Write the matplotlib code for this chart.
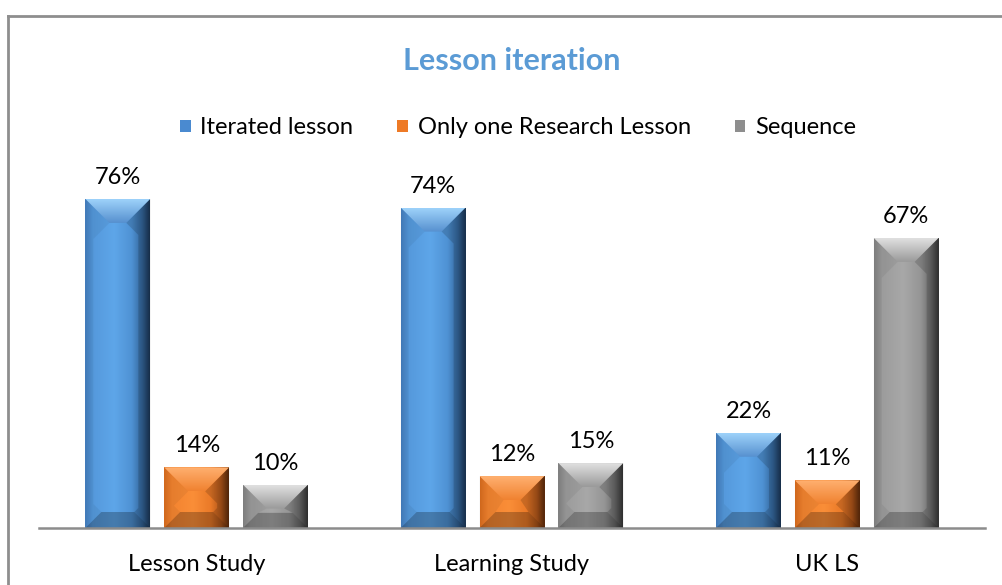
import numpy as np
import matplotlib
matplotlib.use("Agg")
import matplotlib.pyplot as plt
from matplotlib.patches import Polygon
from matplotlib.lines import Line2D
from matplotlib.colors import LinearSegmentedColormap

categories = ["Lesson Study", "Learning Study", "UK LS"]
series_names = ["Iterated lesson", "Only one Research Lesson", "Sequence"]
iterated = [76, 74, 22]
only_one = [14, 12, 11]
sequence = [10, 15, 67]
title = "Lesson iteration"

series_values = [iterated, only_one, sequence]
legend_colors = ["#4A8AD0", "#EE7A26", "#8E8E8E"]
body_stops = [
    ["#4580C0", "#5599DC", "#5EA6E9", "#4F92D4", "#34679C", "#1C3756"],
    ["#DC6E1F", "#F38430", "#FA8E38", "#EA7A28", "#B0561A", "#5E2C0C"],
    ["#858585", "#9C9C9C", "#A8A8A8", "#959595", "#6A6A6A", "#383838"],
]
top_stops = [
    ["#5690CF", "#9DD2FA"],
    ["#F08230", "#FFB070"],
    ["#9A9A9A", "#E0E0E0"],
]

plt.rcParams['font.family'] = ['Lato', 'DejaVu Sans']

W, H = 1003, 585
fig = plt.figure(figsize=(W / 100, H / 100), dpi=100)
ax_left, ax_right = 39, 985
ax_bottom = 528
ymax = 80
px_per_unit = 4.33
ax_top = ax_bottom - ymax * px_per_unit
ax = fig.add_axes([ax_left / W, (H - ax_bottom) / H, (ax_right - ax_left) / W, (ax_bottom - ax_top) / H])

x = np.arange(len(categories))
slot = 0.25
bw = 0.206
xlim = (-0.5, len(categories) - 0.5)
ax.set_xlim(*xlim)
ax.set_ylim(0, ymax)
sx = (xlim[1] - xlim[0]) / (ax_right - ax_left)
sy = ymax / (ax_bottom - ax_top)

hgrad = np.linspace(0, 1, 200).reshape(1, -1)
vgrad = np.linspace(0, 1, 100).reshape(-1, 1)
pos = [0.0, 0.12, 0.45, 0.72, 0.88, 1.0]

for i, (vals, name) in enumerate(zip(series_values, series_names)):
    bars = ax.bar(x + (i - 1) * slot, vals, bw, color=legend_colors[i], label=name, zorder=2, linewidth=0)
    cmap = LinearSegmentedColormap.from_list("b%d" % i, list(zip(pos, body_stops[i])))
    tmap = LinearSegmentedColormap.from_list("t%d" % i, top_stops[i])
    for b, v in zip(bars, vals):
        x0 = b.get_x(); w = b.get_width(); h = b.get_height()
        x1 = x0 + w
        im = ax.imshow(hgrad, cmap=cmap, extent=[x0, x1, 0, h], aspect='auto', zorder=3,
                       interpolation='bilinear')
        im.set_clip_path(b)
        hpx = h / sy
        wpx = w / sx
        dt = min(24.0, hpx * 0.55, wpx / 2 - 6)
        db = min(16.0, hpx * 0.35)
        it = h - dt * sy
        ib = db * sy
        tx0 = x0 + dt * sx; tx1 = x1 - dt * sx
        bx0 = x0 + db * sx; bx1 = x1 - db * sx
        # top bevel with vertical gradient
        top = Polygon([(x0, h), (x1, h), (tx1, it), (tx0, it)], closed=True,
                      facecolor="none", lw=0, zorder=4)
        ax.add_patch(top)
        tim = ax.imshow(vgrad, cmap=tmap, extent=[x0, x1, h, it], aspect='auto', zorder=4,
                        interpolation='bilinear', origin='upper')
        tim.set_clip_path(top)
        # bottom bevel
        ax.add_patch(Polygon([(x0, 0), (x1, 0), (bx1, ib), (bx0, ib)], closed=True,
                             facecolor="black", alpha=0.25, lw=0, zorder=5))
        # right bevel (vertical strip)
        ax.add_patch(Polygon([(x1, 0), (x1, h), (tx1, it), (bx1, ib)] if hpx < 60 else
                             [(x1, ib * 0 + 0), (x1, h), (tx1, it), (x1 - 12 * sx, it - 12 * sy),
                              (x1 - 12 * sx, ib + 4 * sy), (bx1, ib)],
                             closed=True, facecolor="black", alpha=0.15, lw=0, zorder=5))
        # left bevel
        ax.add_patch(Polygon([(x0, 0), (x0, h), (tx0, it), (bx0, ib)] if hpx < 60 else
                             [(x0, 0), (x0, h), (tx0, it), (x0 + 8 * sx, it - 16 * sy),
                              (x0 + 8 * sx, ib + 8 * sy), (bx0, ib)],
                             closed=True, facecolor="black", alpha=0.05, lw=0, zorder=5))
        ax.text(x0 + w / 2, h + 11 * sy, "%d%%" % v, ha='center', va='bottom',
                fontsize=17, color='black', zorder=6)

ax.set_xticks(x)
ax.set_xticklabels(categories, fontsize=17)
ax.tick_params(axis='x', length=0, pad=19)
ax.set_yticks([])
ax.set_xlim(*xlim)
ax.set_ylim(0, ymax)
for s in ["top", "left", "right"]:
    ax.spines[s].set_visible(False)
ax.spines["bottom"].set_color("#8C8C8C")
ax.spines["bottom"].set_linewidth(1.8)
ax.spines["bottom"].set_zorder(7)

fig.text(512 / W, 1 - 61 / H, title, ha='center', va='center', fontsize=22, fontweight='bold',
         color="#5B9BD5")

fig.legend(loc='center', bbox_to_anchor=(518 / W, 1 - 128 / H), ncol=3, frameon=False,
           fontsize=17, handlelength=0.45, handleheight=0.45, handletextpad=0.42, columnspacing=1.85)

# outer frame
fig.add_artist(Line2D([8.5 / W, 1.0], [1 - 15.5 / H, 1 - 15.5 / H], transform=fig.transFigure,
                      color="#8E8E8E", lw=2))
fig.add_artist(Line2D([8.5 / W, 8.5 / W], [1 - 15.5 / H, 0], transform=fig.transFigure,
                      color="#8E8E8E", lw=2))

fig.savefig("out.png", dpi=100)
